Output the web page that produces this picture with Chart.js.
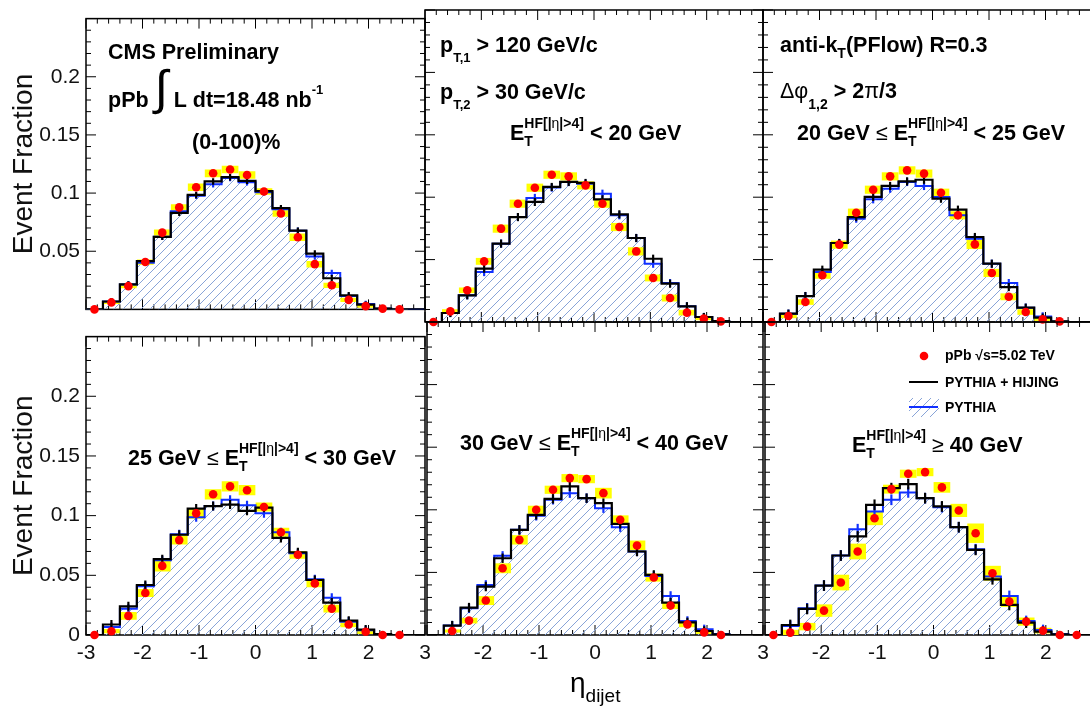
<!DOCTYPE html>
<html>
<head>
<meta charset="utf-8">
<script src="https://cdn.jsdelivr.net/npm/chart.js@4.4.1/dist/chart.umd.min.js"></script>
<style>
  html, body { margin: 0; padding: 0; background: #fff; }
  #wrap { position: relative; width: 1090px; height: 710px; overflow: hidden; background: #fff; }
  #wrap canvas { position: absolute; }
</style>
</head>
<body>
<div id="wrap"></div>
<script>
// eta_dijet binning (20 bins of 0.3)
const etaEdges = [-3, -2.7, -2.4, -2.1, -1.8, -1.5, -1.2, -0.9, -0.6, -0.3, 0, 0.3, 0.6, 0.9, 1.2, 1.5, 1.8, 2.1, 2.4, 2.7, 3];
const etaCenters = [-2.85, -2.55, -2.25, -1.95, -1.65, -1.35, -1.05, -0.75, -0.45, -0.15, 0.15, 0.45, 0.75, 1.05, 1.35, 1.65, 1.95, 2.25, 2.55, 2.85];

// PYTHIA + HIJING, one array per HF energy class
const hijing1 = [0, 0.0068, 0.0215, 0.0415, 0.0624, 0.0830, 0.0984, 0.1100, 0.1137, 0.1105, 0.1016, 0.0870, 0.0677, 0.0480, 0.0268, 0.0121, 0.0041, 0.0007, 0, 0];
const hijing2 = [0, 0.0072, 0.0214, 0.0427, 0.0628, 0.0841, 0.0962, 0.1082, 0.1122, 0.1114, 0.0983, 0.0863, 0.0673, 0.0507, 0.0307, 0.0126, 0.0040, 0.0008, 0, 0];
const hijing3 = [0, 0.0067, 0.0208, 0.0419, 0.0633, 0.0841, 0.1002, 0.1090, 0.1127, 0.1140, 0.0988, 0.0900, 0.0681, 0.0467, 0.0280, 0.0115, 0.0035, 0.0005, 0, 0];
const hijing4 = [0, 0.0088, 0.0240, 0.0419, 0.0635, 0.0840, 0.1059, 0.1080, 0.1093, 0.1040, 0.1067, 0.0813, 0.0693, 0.0461, 0.0272, 0.0120, 0.0045, 0.0008, 0, 0];
const hijing5 = [0, 0.0075, 0.0219, 0.0387, 0.0613, 0.0840, 0.0960, 0.1088, 0.1187, 0.1093, 0.1053, 0.0888, 0.0667, 0.0480, 0.0259, 0.0101, 0.0032, 0.0005, 0, 0];
const hijing6 = [0, 0.0080, 0.0208, 0.0395, 0.0635, 0.0787, 0.1040, 0.1173, 0.1205, 0.1093, 0.1027, 0.0861, 0.0680, 0.0445, 0.0240, 0.0099, 0.0027, 0.0005, 0, 0];

// PYTHIA
const pythia1 = [0, 0.0068, 0.0215, 0.0401, 0.0624, 0.0843, 0.0976, 0.1075, 0.1129, 0.1094, 0.1008, 0.0862, 0.0677, 0.0455, 0.0314, 0.0115, 0.0047, 0.0008, 0, 0];
const pythia2 = [0, 0.0072, 0.0214, 0.0400, 0.0628, 0.0841, 0.0994, 0.1077, 0.1122, 0.1108, 0.1028, 0.0855, 0.0673, 0.0467, 0.0312, 0.0126, 0.0040, 0.0008, 0, 0];
const pythia3 = [0, 0.0067, 0.0208, 0.0400, 0.0633, 0.0828, 0.0983, 0.1068, 0.1122, 0.1090, 0.1002, 0.0855, 0.0668, 0.0467, 0.0312, 0.0115, 0.0045, 0.0005, 0, 0];
const pythia4 = [0, 0.0067, 0.0220, 0.0408, 0.0627, 0.0845, 0.0987, 0.1080, 0.1133, 0.1088, 0.1021, 0.0861, 0.0685, 0.0467, 0.0312, 0.0112, 0.0040, 0.0008, 0, 0];
const pythia5 = [0, 0.0075, 0.0213, 0.0400, 0.0632, 0.0840, 0.0952, 0.1080, 0.1133, 0.1093, 0.1013, 0.0861, 0.0667, 0.0472, 0.0312, 0.0112, 0.0045, 0.0008, 0, 0];
const pythia6 = [0, 0.0072, 0.0213, 0.0395, 0.0635, 0.0845, 0.0987, 0.1080, 0.1139, 0.1093, 0.1021, 0.0861, 0.0685, 0.0467, 0.0312, 0.0112, 0.0040, 0.0008, 0, 0];

// pPb data (null = no point)
const data1 = [0, 0.0060, 0.0200, 0.0407, 0.0660, 0.0877, 0.1050, 0.1170, 0.1203, 0.1155, 0.1014, 0.0824, 0.0620, 0.0389, 0.0207, 0.0082, 0.0028, 0.0007, 0, null];
const data2 = [0, 0.0085, 0.0254, 0.0486, 0.0748, 0.0948, 0.1076, 0.1180, 0.1167, 0.1095, 0.0948, 0.0761, 0.0566, 0.0353, 0.0192, 0.0075, 0.0027, 0.0005, null, null];
const data3 = [0, 0.0048, 0.0160, 0.0374, 0.0620, 0.0876, 0.1060, 0.1167, 0.1215, 0.1189, 0.1036, 0.0855, 0.0622, 0.0393, 0.0202, 0.0080, 0.0021, 0.0005, null, null];
const data4 = [0, 0.0032, 0.0160, 0.0352, 0.0579, 0.0795, 0.1019, 0.1179, 0.1245, 0.1213, 0.1072, 0.0861, 0.0672, 0.0432, 0.0221, 0.0088, 0.0027, 0, 0, null];
const data5 = [null, 0.0032, 0.0115, 0.0275, 0.0533, 0.0760, 0.1000, 0.1160, 0.1253, 0.1245, 0.1133, 0.0920, 0.0715, 0.0459, 0.0235, 0.0085, 0.0021, 0, null, null];
const data6 = [0, 0.0019, 0.0067, 0.0195, 0.0419, 0.0667, 0.0933, 0.1165, 0.1288, 0.1301, 0.1179, 0.0995, 0.0813, 0.0493, 0.0267, 0.0107, 0.0035, 0, 0, null];

// systematic uncertainty (half height of the yellow boxes)
const sys1 = [0.0005, 0.001, 0.0015, 0.002, 0.0025, 0.0025, 0.003, 0.003, 0.003, 0.003, 0.0025, 0.0025, 0.003, 0.0025, 0.002, 0.0015, 0.001, 0.0005, 0.0005, null];
const sys2 = [0.0005, 0.0015, 0.002, 0.0025, 0.003, 0.003, 0.003, 0.003, 0.003, 0.003, 0.003, 0.003, 0.003, 0.0025, 0.0025, 0.002, 0.001, 0.0005, null, null];
const sys3 = [0.0005, 0.0015, 0.002, 0.0025, 0.003, 0.003, 0.003, 0.003, 0.003, 0.003, 0.003, 0.003, 0.0035, 0.003, 0.0025, 0.002, 0.001, 0.0005, null, null];
const sys4 = [0.0005, 0.0015, 0.003, 0.003, 0.0044, 0.0035, 0.0043, 0.004, 0.004, 0.004, 0.0035, 0.0035, 0.003, 0.003, 0.003, 0.002, 0.0015, 0.0005, 0.0005, null];
const sys5 = [null, 0.001, 0.002, 0.0033, 0.0037, 0.0035, 0.003, 0.003, 0.003, 0.003, 0.004, 0.0033, 0.0037, 0.003, 0.0025, 0.002, 0.001, 0.0005, null, null];
const sys6 = [0.0005, 0.002, 0.0027, 0.0047, 0.006, 0.006, 0.0053, 0.0033, 0.003, 0.003, 0.004, 0.005, 0.0075, 0.0057, 0.004, 0.003, 0.002, 0.0005, 0.0005, null];

// MC statistical error per panel
const mcErr = [0.0025, 0.003, 0.003, 0.0035, 0.0035, 0.004];

const seriesNames = ['pPb √s=5.02 TeV', 'PYTHIA + HIJING', 'PYTHIA'];

const FONT = '"Liberation Sans", Arial, Helvetica, sans-serif';
const TXT = 21.5;

// E_T^{HF[|eta|>4]}
const ET = [{t: 'E'}, {stack: [
  [{t: 'T', s: 14, dy: 6}],
  [{t: 'HF[|', s: 14, dy: -12}, {t: 'η', n: true, s: 14, dy: -12}, {t: '|>4]', s: 14, dy: -12}]
]}];

const panels = [
  {hijing: hijing1, pythia: pythia1, data: data1, sys: sys1, text: [
    {x: 22, y: 40, runs: [{t: 'CMS Preliminary'}]},
    {x: 22, y: 88, runs: [{t: 'pPb '}, {t: '∫', n: true, s: 48, dy: -3}, {t: ' L dt=18.48 nb'}, {t: '-1', s: 13, dy: -13}]},
    {x: 106, y: 130, runs: [{t: '(0-100)%'}]}
  ]},
  {hijing: hijing2, pythia: pythia2, data: data2, sys: sys2, text: [
    {x: 15, y: 42, runs: [{t: 'p'}, {t: 'T,1', s: 13, dy: 10}, {t: ' > 120 GeV/c'}]},
    {x: 15, y: 89, runs: [{t: 'p'}, {t: 'T,2', s: 13, dy: 10}, {t: ' > 30 GeV/c'}]},
    {x: 85, y: 130, runs: [...ET, {t: ' < 20 GeV'}]}
  ]},
  {hijing: hijing3, pythia: pythia3, data: data3, sys: sys3, text: [
    {x: 17, y: 42, runs: [{t: 'anti-k'}, {t: 'T', s: 14, dy: 6}, {t: '(PFlow) R=0.3'}]},
    {x: 17, y: 88, runs: [{t: 'Δφ', n: true}, {t: '1,2', s: 14, dy: 11}, {t: ' > 2'}, {t: 'π', n: true}, {t: '/3'}]},
    {x: 34, y: 130, runs: [{t: '20 GeV '}, {t: '≤', n: true}, {t: ' '}, ...ET, {t: ' < 25 GeV'}]}
  ]},
  {hijing: hijing4, pythia: pythia4, data: data4, sys: sys4, text: [
    {x: 42, y: 128, runs: [{t: '25 GeV '}, {t: '≤', n: true}, {t: ' '}, ...ET, {t: ' < 30 GeV'}]}
  ]},
  {hijing: hijing5, pythia: pythia5, data: data5, sys: sys5, text: [
    {x: 33, y: 128, runs: [{t: '30 GeV '}, {t: '≤', n: true}, {t: ' '}, ...ET, {t: ' < 40 GeV'}]}
  ]},
  {hijing: hijing6, pythia: pythia6, data: data6, sys: sys6, text: [
    {x: 87, y: 130, runs: [...ET, {t: ' '}, {t: '≥', n: true}, {t: ' 40 GeV'}]}
  ]}
];

// frame edges of the 3x2 grid
const frameL = [86, 425, 763], frameR = [425, 763, 1102];
const frameT = [10, 322], frameB = [322, 635];

function drawRuns(ctx, x, y, runs) {
  runs.forEach(r => {
    if (r.stack) {
      x = Math.max(...r.stack.map(part => drawRuns(ctx, x, y, part)));
      return;
    }
    ctx.font = (r.n ? '' : 'bold ') + (r.s || TXT) + 'px ' + FONT;
    ctx.fillText(r.t, x, y + (r.dy || 0));
    x += ctx.measureText(r.t).width;
  });
  return x;
}

function hatchTile() {
  const c = document.createElement('canvas');
  c.width = c.height = 9;
  const g = c.getContext('2d');
  g.strokeStyle = '#88a4d8';
  g.lineWidth = 1;
  g.beginPath();
  g.moveTo(-1, 10); g.lineTo(10, -1);
  g.moveTo(-1, 1); g.lineTo(1, -1);
  g.moveTo(8, 10); g.lineTo(10, 8);
  g.stroke();
  return c;
}
const tile = hatchTile();

const isMult = (v, step) => Math.abs(v / step - Math.round(v / step)) < 1e-6;

function panelPlugin(p, k, pattern) {
  return {
    id: 'panel' + k,
    // frame and inward ticks
    beforeDatasetsDraw(chart) {
      const {ctx, chartArea: a, scales: {x, y}} = chart;
      ctx.save();
      ctx.strokeStyle = '#000';
      ctx.lineWidth = 1;
      ctx.beginPath();
      x.ticks.forEach(t => {
        const px = x.getPixelForValue(t.value);
        const len = isMult(t.value, 1) ? 10 : 5;
        ctx.moveTo(px, a.bottom); ctx.lineTo(px, a.bottom - len);
        ctx.moveTo(px, a.top); ctx.lineTo(px, a.top + len);
      });
      y.ticks.forEach(t => {
        const py = y.getPixelForValue(t.value);
        const len = isMult(t.value, 0.05) ? 10 : 5;
        ctx.moveTo(a.left, py); ctx.lineTo(a.left + len, py);
        ctx.moveTo(a.right, py); ctx.lineTo(a.right - len, py);
      });
      ctx.stroke();
      ctx.lineWidth = 1.5;
      ctx.strokeRect(a.left, a.top, a.right - a.left, a.bottom - a.top);
      ctx.restore();
    },
    afterDraw(chart) {
      const {ctx, chartArea: a} = chart;
      ctx.save();
      ctx.fillStyle = '#000';
      ctx.textBaseline = 'alphabetic';
      ctx.textAlign = 'left';
      p.text.forEach(line => drawRuns(ctx, a.left + line.x, a.top + line.y, line.runs));

      if (k === 4) {
        drawRuns(ctx, a.left + 143, a.bottom + 57, [{t: 'η', n: true, s: 28}, {t: 'dijet', n: true, s: 19, dy: 10}]);
      }
      if (k === 5) {
        ctx.fillStyle = '#ff0000';
        ctx.beginPath();
        ctx.arc(a.left + 159, a.top + 34, 4.3, 0, Math.PI * 2);
        ctx.fill();
        ctx.strokeStyle = '#000';
        ctx.lineWidth = 2;
        ctx.beginPath();
        ctx.moveTo(a.left + 144, a.top + 60); ctx.lineTo(a.left + 173, a.top + 60);
        ctx.stroke();
        ctx.fillStyle = pattern;
        ctx.fillRect(a.left + 144, a.top + 76, 30, 19);
        ctx.strokeStyle = '#1030ff';
        ctx.beginPath();
        ctx.moveTo(a.left + 144, a.top + 85); ctx.lineTo(a.left + 173, a.top + 85);
        ctx.stroke();
        ctx.fillStyle = '#000';
        [38, 65, 90].forEach((dy, i) => drawRuns(ctx, a.left + 180, a.top + dy, [{t: seriesNames[i], s: 14}]));
      }
      ctx.restore();
    }
  };
}

// bin i holds its value from edge i to edge i+1
const steps = vals => etaEdges.map((x, i) => ({x, y: vals[Math.min(i, vals.length - 1)]}));
const points = vals => etaCenters.map((x, i) => ({x, y: vals[i]})).filter(pt => pt.y !== null);
const boxes = (vals, sys) => etaCenters.map((x, i) => ({x, y: [vals[i] - sys[i], vals[i] + sys[i]], v: vals[i]})).filter(b => b.v !== null);
const errBars = (vals, e) => etaCenters.map((x, i) => ({x, y: [vals[i] - e, vals[i] + e], v: vals[i]})).filter(b => b.v > 0.002);

const wrap = document.getElementById('wrap');

panels.forEach((p, k) => {
  const row = Math.floor(k / 3), col = k % 3;
  const left = col === 0 ? 0 : frameL[col] - 4;
  const top = row === 0 ? 0 : frameT[row] - 4;
  const right = frameR[col] + 14;
  const bottom = row === 0 ? frameB[0] + 6 : 710;
  const cv = document.createElement('canvas');
  cv.width = right - left;
  cv.height = bottom - top;
  cv.style.left = left + 'px';
  cv.style.top = top + 'px';
  wrap.appendChild(cv);
  const ctx = cv.getContext('2d');
  const pattern = ctx.createPattern(tile, 'repeat');

  const yW = col === 0 ? 86 : 0;
  const xH = row === 1 ? 75 : 0;

  new Chart(ctx, {
    type: 'line',
    data: {
      datasets: [
        {label: seriesNames[2], data: steps(p.pythia), stepped: 'before', fill: 'origin',
          backgroundColor: pattern, borderWidth: 0, pointRadius: 0, order: 6},
        {type: 'bar', data: boxes(p.data, p.sys), backgroundColor: '#ffff00', borderWidth: 0,
          barThickness: 16, grouped: false, order: 5},
        {label: seriesNames[2], data: steps(p.pythia), stepped: 'before', fill: false,
          borderColor: '#1030ff', borderWidth: 2, pointRadius: 0, order: 4},
        {type: 'bar', data: errBars(p.pythia, mcErr[k]), backgroundColor: '#1030ff', borderWidth: 0,
          barThickness: 1.5, grouped: false, order: 3},
        {label: seriesNames[1], data: steps(p.hijing), stepped: 'before', fill: false,
          borderColor: '#000', borderWidth: 2.2, pointRadius: 0, order: 2},
        {type: 'bar', data: errBars(p.hijing, mcErr[k]), backgroundColor: '#000', borderWidth: 0,
          barThickness: 1.5, grouped: false, order: 1},
        {type: 'scatter', label: seriesNames[0], data: points(p.data), pointRadius: 4.3,
          backgroundColor: '#ff0000', borderWidth: 0, clip: false, order: 0}
      ]
    },
    options: {
      responsive: false,
      animation: false,
      devicePixelRatio: 1,
      events: [],
      layout: {
        autoPadding: false,
        padding: {left: col === 0 ? 0 : 4, top: row === 0 ? 10 : 4, right: 14, bottom: row === 0 ? 6 : 0}
      },
      plugins: {legend: {display: false}, tooltip: {enabled: false}},
      scales: {
        x: {
          type: 'linear', min: -3, max: 3, offset: false,
          afterFit: s => { s.height = xH; },
          grid: {display: false, drawTicks: false},
          border: {display: false},
          ticks: {
            display: row === 1, stepSize: 0.2, autoSkip: false, maxRotation: 0, padding: 6,
            font: {family: FONT, size: 21}, color: '#111',
            callback: v => {
              const n = Math.round(v);
              if (Math.abs(v - n) > 1e-6 || (col > 0 && n === -3)) return '';
              return String(n);
            }
          }
        },
        y: {
          type: 'linear', min: 0, max: 0.25,
          afterFit: s => { s.width = yW; },
          grid: {display: false, drawTicks: false},
          border: {display: false},
          ticks: {
            display: col === 0, stepSize: 0.01, autoSkip: false, padding: 6,
            font: {family: FONT, size: 21}, color: '#111',
            callback: v => {
              const m = Math.round(v * 20);
              if (Math.abs(v * 20 - m) > 1e-6 || m === 5 || (row === 0 && m === 0)) return '';
              return String(+(m * 0.05).toFixed(2));
            }
          },
          title: {
            display: col === 0, text: 'Event Fraction',
            font: {family: FONT, size: 28}, color: '#111', padding: {top: 7, bottom: 0}
          }
        }
      }
    },
    plugins: [panelPlugin(p, k, pattern)]
  });
});
</script>
</body>
</html>
